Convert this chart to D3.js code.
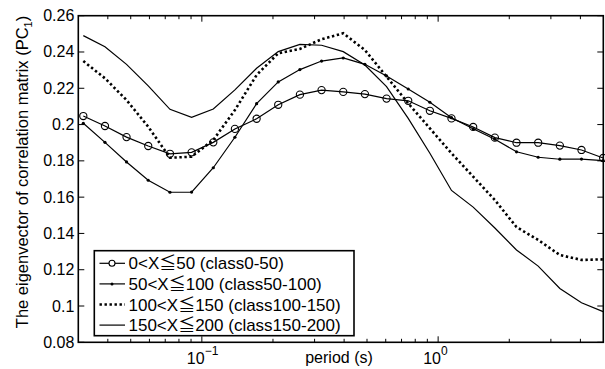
<!DOCTYPE html>
<html>
<head>
<meta charset="utf-8">
<script src="https://cdn.jsdelivr.net/npm/d3@7"></script>
<style>
  body { margin: 0; background: #fff; }
  svg { display: block; }
  text { font-family: "Liberation Sans", Arial, "Noto Sans CJK JP", sans-serif; }
</style>
</head>
<body>
<svg id="chart" width="605" height="369"></svg>
<script>
// periods (s)
const period = [0.0315, 0.0389, 0.0480, 0.0593, 0.0733, 0.0905, 0.1118, 0.1380, 0.1705, 0.2105,
  0.2600, 0.3211, 0.3966, 0.4898, 0.6049, 0.7471, 0.9226, 1.139, 1.407, 1.738,
  2.146, 2.651, 3.274, 4.043, 4.993];

const class0_50 = [0.2047, 0.1992, 0.1931, 0.1882, 0.1839, 0.1847, 0.1902, 0.1976, 0.2032, 0.2109,
  0.2165, 0.2190, 0.2180, 0.2168, 0.2143, 0.2131, 0.2076, 0.2034, 0.1987, 0.1928,
  0.1900, 0.1900, 0.1884, 0.1860, 0.1816];
const class50_100 = [0.2007, 0.1902, 0.1794, 0.1693, 0.1627, 0.1628, 0.1762, 0.1930, 0.2115, 0.2235,
  0.2303, 0.2350, 0.2367, 0.2332, 0.2268, 0.2196, 0.2123, 0.2038, 0.1977, 0.1919,
  0.1850, 0.1820, 0.1809, 0.1810, 0.1801];
const class100_150 = [0.2350, 0.2255, 0.2135, 0.1988, 0.1817, 0.1823, 0.1915, 0.2080, 0.2273, 0.2393,
  0.2417, 0.2470, 0.2503, 0.2411, 0.2264, 0.2117, 0.1979, 0.1842, 0.1713, 0.1584,
  0.1435, 0.1364, 0.1281, 0.1254, 0.1257];
const class150_200 = [0.2490, 0.2429, 0.2332, 0.2213, 0.2084, 0.2040, 0.2086, 0.2191, 0.2310, 0.2402,
  0.2442, 0.2437, 0.2402, 0.2328, 0.2209, 0.2034, 0.1842, 0.1637, 0.1545, 0.1430,
  0.1309, 0.1220, 0.1097, 0.1018, 0.0969];

const legendLabels = ["0<X≦50 (class0-50)", "50<X≦100 (class50-100)",
  "100<X≦150 (class100-150)", "150<X≦200 (class150-200)"];
const yTicks = [0.08, 0.1, 0.12, 0.14, 0.16, 0.18, 0.2, 0.22, 0.24, 0.26];
const yTickLabels = ["0.08", "0.1", "0.12", "0.14", "0.16", "0.18", "0.2", "0.22", "0.24", "0.26"];
const xMajor = [0.1, 1];
const xMajorExp = ["−1", "0"];
const xMinor = [0.04, 0.05, 0.06, 0.07, 0.08, 0.09, 0.2, 0.3, 0.4, 0.5, 0.6, 0.7, 0.8, 0.9, 2, 3, 4];

const series = [
  {name: legendLabels[0], values: class0_50, marker: "circle", dash: null, w: 1.2},
  {name: legendLabels[1], values: class50_100, marker: "dot", dash: null, w: 1.2},
  {name: legendLabels[2], values: class100_150, marker: null, dash: "2.4,2.6", w: 2.6},
  {name: legendLabels[3], values: class150_200, marker: null, dash: null, w: 1.2}
];

const L = 78.3, R = 603.3, T = 15.7, B = 342.3;
const svg = d3.select("#chart");
const x = d3.scaleLog().domain([0.03, 5]).range([L, R]);
const y = d3.scaleLinear().domain([0.08, 0.26]).range([B, T]);

// lines
const line = d3.line().x((d, i) => x(period[i])).y(d => y(d));
series.forEach(s => {
  svg.append("path")
    .datum(s.values)
    .attr("d", line)
    .attr("fill", "none")
    .attr("stroke", "#000")
    .attr("stroke-width", s.w)
    .attr("stroke-dasharray", s.dash);
  if (s.marker === "circle") {
    svg.selectAll(null).data(s.values).enter().append("circle")
      .attr("cx", (d, i) => x(period[i])).attr("cy", d => y(d))
      .attr("r", 3.6).attr("fill", "none").attr("stroke", "#000").attr("stroke-width", 1.1);
  } else if (s.marker === "dot") {
    svg.selectAll(null).data(s.values).enter().append("circle")
      .attr("cx", (d, i) => x(period[i])).attr("cy", d => y(d))
      .attr("r", 1.6).attr("fill", "#000");
  }
});

// frame
svg.append("rect").attr("x", L).attr("y", T).attr("width", R - L).attr("height", B - T)
  .attr("fill", "none").attr("stroke", "#000").attr("stroke-width", 1.6);

// ticks (inward, all sides)
const tk = svg.append("g").attr("stroke", "#000").attr("stroke-width", 1);
xMajor.forEach(v => {
  tk.append("line").attr("x1", x(v)).attr("x2", x(v)).attr("y1", B).attr("y2", B - 6);
  tk.append("line").attr("x1", x(v)).attr("x2", x(v)).attr("y1", T).attr("y2", T + 6);
});
xMinor.forEach(v => {
  tk.append("line").attr("x1", x(v)).attr("x2", x(v)).attr("y1", B).attr("y2", B - 3.5);
  tk.append("line").attr("x1", x(v)).attr("x2", x(v)).attr("y1", T).attr("y2", T + 3.5);
});
yTicks.forEach(v => {
  tk.append("line").attr("x1", L).attr("x2", L + 6).attr("y1", y(v)).attr("y2", y(v));
  tk.append("line").attr("x1", R).attr("x2", R - 6).attr("y1", y(v)).attr("y2", y(v));
});

// y tick labels
svg.append("g").selectAll("text").data(yTicks).enter().append("text")
  .attr("x", L - 4).attr("y", d => y(d) + 5.5)
  .attr("text-anchor", "end").attr("font-size", 16)
  .text((d, i) => yTickLabels[i]);

// x tick labels (10^n)
xMajor.forEach((v, i) => {
  const t = svg.append("text").attr("x", x(v) - 15).attr("y", 364).attr("font-size", 16);
  t.append("tspan").text("10");
  t.append("tspan").attr("dy", -9).attr("font-size", 12).text(xMajorExp[i]);
});

// axis labels
svg.append("text").attr("x", 339).attr("y", 363).attr("text-anchor", "middle")
  .attr("font-size", 16).text("period (s)");

const yl = svg.append("text").attr("transform", "translate(28,172) rotate(-90)")
  .attr("text-anchor", "middle").attr("font-size", 16.5);
yl.append("tspan").text("The eigenvector of correlation matrix (PC");
yl.append("tspan").attr("font-size", 11).attr("dy", 4).text("1");
yl.append("tspan").attr("dy", -4).text(")");

// legend
const lg = svg.append("g");
lg.append("rect").attr("x", 94.3).attr("y", 250.7).attr("width", 259.7).attr("height", 85)
  .attr("fill", "#fff").attr("stroke", "#000").attr("stroke-width", 1.6);
series.forEach((s, i) => {
  const cy = 263.3 + i * 20.6;
  lg.append("line").attr("x1", 99.5).attr("x2", 125).attr("y1", cy).attr("y2", cy)
    .attr("stroke", "#000").attr("stroke-width", s.w).attr("stroke-dasharray", s.dash);
  if (s.marker === "circle") {
    lg.append("circle").attr("cx", 112).attr("cy", cy).attr("r", 3).attr("fill", "#fff")
      .attr("stroke", "#000").attr("stroke-width", 1.1);
  } else if (s.marker === "dot") {
    lg.append("circle").attr("cx", 112).attr("cy", cy).attr("r", 1.5).attr("fill", "#000");
  }
  lg.append("text").attr("x", 128.5).attr("y", cy + 6).attr("font-size", 17).text(s.name);
});
</script>
</body>
</html>
